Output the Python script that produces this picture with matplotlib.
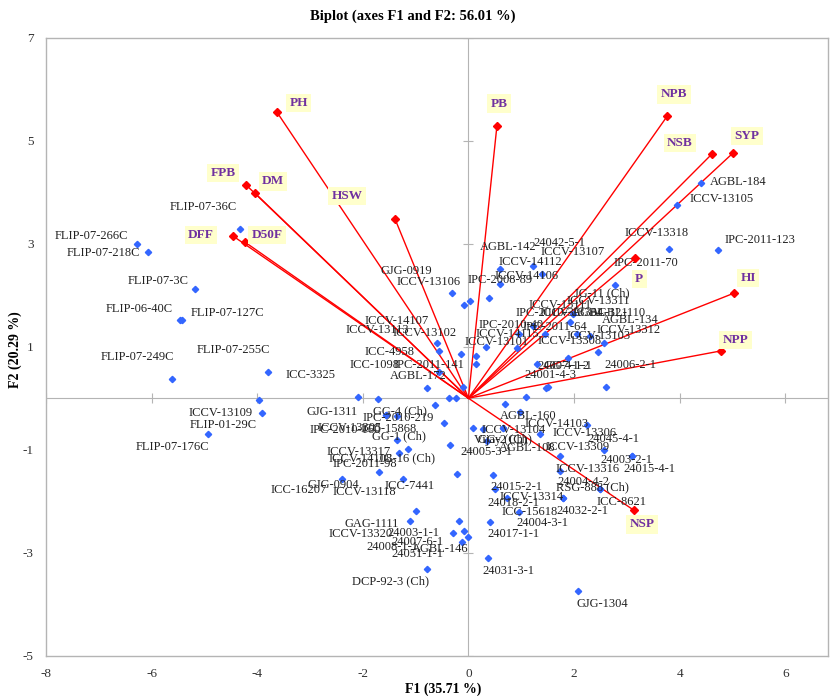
import matplotlib
matplotlib.use("Agg")
from matplotlib import pyplot as plt

plt.rcParams['font.family'] = ['Liberation Serif', 'DejaVu Serif']
plt.rcParams['axes.unicode_minus'] = False

# variables (loadings scaled for the biplot)
var_names = ["PH", "FPB", "DM", "DFF", "D50F", "HSW", "PB", "NPB", "NSB", "SYP",
             "P", "HI", "NPP", "NSP"]
var_f1 = [-3.63, -4.21, -4.04, -4.46, -4.23, -1.39, 0.54, 3.76, 4.61, 5.01,
          3.16, 5.03, 4.79, 3.14]
var_f2 = [5.56, 4.14, 3.98, 3.15, 3.03, 3.48, 5.29, 5.47, 4.74, 4.76,
          2.72, 2.04, 0.92, -2.18]
# label offsets for variable names, in pixels
var_off = [(22, 9), (-23, 12), (18, 12), (-32, 1), (22, 7), (-48, 23), (2, 22),
           (7, 22), (-32, 11), (14, 17), (4, -21), (14, 15), (14, 11), (8, -14)]

# genotypes (observation scores)
obs_names = [
    "FLIP-07-266C", "FLIP-07-218C", "FLIP-07-36C", "FLIP-07-3C", "FLIP-06-40C",
    "FLIP-07-127C", "FLIP-07-249C", "FLIP-07-255C", "ICC-3325", "ICCV-13109",
    "FLIP-01-29C", "FLIP-07-176C",
    "GJG-0919", "ICCV-13106", "IPC-2008-89", "ICCV-14106", "ICCV-14112",
    "AGBL-142", "24042-5-1", "ICCV-13107", "ICCV-14107", "ICCV-13113",
    "ICCV-13102", "ICC-4958", "ICC-1098", "IPC-2011-141", "AGBL-172",
    "IPC-2011-70", "JG-11 (Ch)", "ICCV-13311", "ICCV-13111", "IPC-2010-39",
    "ICCV-13304", "AGBL-121", "AGBL-110", "AGBL-134", "ICCV-13312",
    "ICCV-13103", "IPC-2010-40", "IPC-2011-64", "ICCV-14115", "ICCV-13101",
    "ICCV-13308", "24007-1-2", "GG-4-1-1", "24006-2-1", "24001-4-3",
    "ICCV-13318", "IPC-2011-123", "ICCV-13105", "AGBL-184",
    "GJG-1311", "GG-4 (Ch)", "IPC-2010-219", "IPC-2010-160", "ICCV-13305",
    "ICC-15868", "GG-1 (Ch)", "ICCV-13317", "ICCV-14108", "JG-16 (Ch)",
    "IPC-2011-98", "GJG-0904", "ICC-16207", "ICCV-13118", "ICC-7441",
    "GAG-1111", "ICCV-13320", "24003-1-1", "24007-6-1", "24008-1-1",
    "AGBL-146", "24051-1-1", "DCP-92-3 (Ch)",
    "AGBL-160", "ICCV-14103", "ICCV-13104", "Vijay (Ch)", "GG-2 (Ch)",
    "AGBL-108", "24005-3-1", "ICCV-13306", "24045-4-1", "ICCV-13309",
    "24003-2-1", "24015-4-1", "ICCV-13316", "24004-4-2", "RSG-888 (Ch)",
    "ICC-8621", "24015-2-1", "ICCV-13314", "24018-2-1", "ICC-15618",
    "24032-2-1", "24004-3-1", "24017-1-1", "24031-3-1", "GJG-1304",
]
obs_f1 = [
    -6.27, -6.06, -4.32, -5.17, -5.47, -5.42, -5.61, -3.79, -2.10, -3.96,
    -3.91, -4.94,
    -0.31, -0.08, 0.03, 0.39, 0.60, 0.60, 1.22, 1.39, -0.60, -0.55,
    -0.14, -0.55, -0.79, -0.11, -0.36,
    2.77, 1.99, 1.93, 1.23, 0.96, 1.45, 2.06, 2.30, 2.56, 2.46,
    1.89, 0.33, 0.92, 0.15, 0.14, 1.30, 1.47, 1.51, 2.61, 1.09,
    3.79, 4.72, 3.95, 4.41,
    -1.72, -0.23, -0.63, -1.56, -1.56, -1.36, -0.47, -1.36, -1.14, -0.35,
    -1.31, -1.69, -2.40, -1.24, -0.22, -0.99, -1.10, -0.17, -0.08, -0.30,
    0.00, -0.12, -0.78,
    0.70, 0.97, 0.27, 0.09, 0.66, 0.66, 0.35, 2.24, 2.56, 1.36,
    3.09, 3.09, 1.74, 1.74, 2.49, 2.49, 0.46, 1.79, 0.51, 0.73,
    1.79, 0.95, 0.41, 0.37, 2.08,
]
obs_f2 = [
    2.99, 2.83, 3.29, 2.13, 1.52, 1.51, 0.37, 0.51, 0.02, -0.03,
    -0.28, -0.70,
    2.04, 1.81, 1.89, 1.95, 2.21, 2.50, 2.57, 2.41, 1.07, 0.92,
    0.86, 0.50, 0.20, 0.21, 0.00,
    2.20, 1.63, 1.48, 1.40, 1.25, 1.25, 1.25, 1.21, 1.08, 0.90,
    0.79, 1.00, 0.97, 0.82, 0.66, 0.66, 0.20, 0.22, 0.21, 0.02,
    2.89, 2.88, 3.75, 4.18,
    -0.02, 0.00, -0.14, -0.33, -0.33, -0.35, -0.49, -0.81, -0.99, -0.90,
    -1.06, -1.44, -1.57, -1.57, -1.47, -2.19, -2.38, -2.38, -2.58, -2.62,
    -2.69, -2.80, -3.32,
    -0.11, -0.26, -0.60, -0.58, -0.58, -0.58, -0.84, -0.52, -1.01, -0.70,
    -1.12, -1.12, -1.12, -1.41, -1.77, -1.77, -1.49, -1.94, -1.77, -1.94,
    -1.94, -2.20, -2.40, -3.11, -3.74,
]
# label offsets for genotype names, in pixels
obs_off = [
    (-46, 8), (-45, -1), (-37, 22), (-37, 8), (-40, 11), (45, 7), (-35, 22),
    (-35, 22), (-47, 22), (-39, -13), (-39, -12), (-35, -13),
    (-46, 22), (-36, 23), (30, 21), (38, 22), (30, 22), (8, 22), (27, 23),
    (31, 22), (-40, 22), (-62, 21), (-36, 21), (-50, 20), (-52, 23),
    (-34, 22), (-31, 22),
    (31, 22), (28, 21), (28, 21), (27, 21), (29, 21), (27, 21), (23, 21),
    (28, 23), (27, 23), (30, 22), (30, 22), (25, 22), (38, 21), (31, 22),
    (21, 22), (33, 23), (17, 22), (20, 21), (24, 22), (24, 22),
    (-12, 16), (42, 10), (45, 6), (37, 1),
    (-46, -13), (-56, -13), (-37, -13), (-41, -15), (-36, -13), (-8, -13),
    (-45, -13), (-38, -12), (-48, -10), (-43, -14), (-34, -11), (-46, -13),
    (-43, -11), (-39, -13), (-47, -12), (-44, -13), (-50, -13), (-46, -12),
    (-47, -11), (-60, -14), (-28, -12), (-45, -12), (-37, -12),
    (23, -12), (37, -12), (31, -1), (27, -12), (2, -11), (24, -20), (0, -11),
    (-2, -8), (10, 11), (37, -13), (-5, -4), (18, -13), (27, -13), (23, -11),
    (-7, 2), (22, -13), (24, -12), (-31, 1), (18, -14), (23, -14), (20, -13),
    (24, -12), (23, -12), (20, -13), (24, -13),
]

x_ticks = [-8, -6, -4, -2, 0, 2, 4, 6]
y_ticks = [-5, -3, -1, 1, 3, 5, 7]

fig = plt.figure(figsize=(8.3, 6.96), dpi=100)
ax = fig.add_axes([46 / 830, 1 - 655.7 / 696, 782 / 830, 618 / 696])
ax.set_xlim(-8, 6.81)
ax.set_ylim(-5, 7)

grey = "#b4b4b4"
for s in ax.spines.values():
    s.set_color(grey)
    s.set_linewidth(1.0)

# axes through the origin with their own tick marks
ax.axhline(0, color=grey, lw=0.8, zorder=1)
ax.axvline(0, color=grey, lw=0.8, zorder=1)
ax.plot(x_ticks, [0] * len(x_ticks), ls="none", marker="|", ms=7, mew=0.8, color=grey, zorder=1)
ax.plot([0] * len(y_ticks), y_ticks, ls="none", marker="_", ms=7, mew=0.8, color=grey, zorder=1)

ax.set_xticks(x_ticks)
ax.set_yticks(y_ticks)
ax.tick_params(length=0, labelsize=9.5, colors="#333333", pad=9)

# genotypes
ax.plot(obs_f1, obs_f2, ls="none", marker="D", ms=3.2, color="#3366ff", mec="#3366ff", zorder=3)
for name, x, y, off in zip(obs_names, obs_f1, obs_f2, obs_off):
    ax.annotate(name, (x, y), xytext=off, textcoords="offset pixels",
                ha="center", va="center", fontsize=9, color="#222222", zorder=4)

# variable vectors
for name, x, y, off in zip(var_names, var_f1, var_f2, var_off):
    ax.plot([0, x], [0, y], color="#ff0000", lw=1.0, zorder=2)
    ax.plot(x, y, marker="D", ms=3.8, color="#ff0000", zorder=5)
    ax.annotate(name, (x, y), xytext=off, textcoords="offset pixels",
                ha="center", va="center", fontsize=9.5, fontweight="bold",
                color="#7030a0", zorder=6,
                bbox=dict(boxstyle="square,pad=0.25", fc="#ffffcc", ec="none"))

fig.text(0.497, 1 - 16 / 696, "Biplot (axes F1 and F2: 56.01 %)", ha="center", va="center",
         fontsize=10.5, fontweight="bold")
fig.text(443 / 830, 1 - 689 / 696, "F1 (35.71 %)", ha="center", va="center",
         fontsize=10, fontweight="bold")
fig.text(15 / 830, 1 - 350 / 696, "F2 (20.29 %)", ha="center", va="center",
         rotation=90, fontsize=10, fontweight="bold")

fig.savefig("out.png", dpi=100)
